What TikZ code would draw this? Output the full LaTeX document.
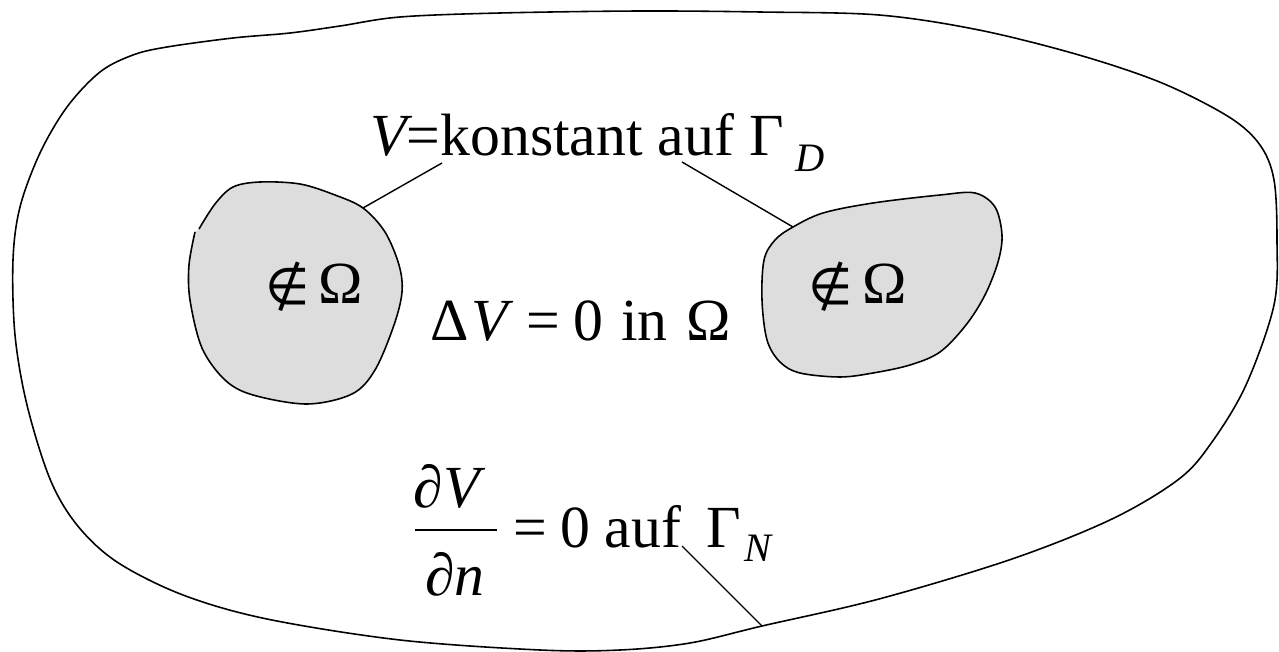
\documentclass[tikz,border=0pt]{standalone}
\usepackage{fontspec}
\setmainfont{Liberation Serif}
\newfontfamily\symfont{DejaVu Sans}
\definecolor{blobgray}{RGB}{221,221,221}
\begin{document}
\begin{tikzpicture}[x=0.02cm,y=-0.02cm,
  outline/.style={line width=0.9pt,line join=round},
  leader/.style={line width=0.8pt},
  txt/.style={inner sep=0pt,anchor=base west,font=\fontsize{34}{40}\selectfont},
  notin/.style={inner sep=0pt,anchor=base,font=\fontsize{29}{34}\symfont}]
\useasboundingbox (0,0) rectangle (1279,652);
% outer domain
\draw[outline] plot[smooth cycle,tension=0.55] coordinates {
 (400,17) (500,13) (640,11) (760,12) (879,15) (979,30) (1079,55) (1162,83) (1229,117) (1260,145)
 (1274,180) (1277,240) (1274,305) (1246,385) (1212,442) (1179,479) (1112,519)
 (1012,559) (879,599) (762,626) (690,643) (620,650) (540,650) (400,640) (267,619)
 (183,595) (117,562) (77,525) (50,479) (27,405) (15,335) (13,260) (20,207) (40,153)
 (67,107) (100,72) (133,55) (167,47) (233,38) (290,33) (340,26)};
% left blob
\fill[blobgray] plot[smooth cycle,tension=0.55] coordinates {
 (199,229) (215,204) (233,187) (260,182) (300,184) (335,195) (363,208) (385,232)
 (399,265) (402,292) (394,325) (375,370) (352,394) (307,404) (253,395) (225,380)
 (202,348) (190,300) (189,265) (194,233)};
\draw[outline] plot[smooth,tension=0.55] coordinates {
 (199,229) (215,204) (233,187) (260,182) (300,184) (335,195) (363,208) (385,232)
 (399,265) (402,292) (394,325) (375,370) (352,394) (307,404) (253,395) (225,380)
 (202,348) (190,300) (189,265) (195,232)};
% right blob
\draw[outline,fill=blobgray] plot[smooth cycle,tension=0.55] coordinates {
 (793,227) (823,213) (873,203) (940,195) (975,193) (995,207) (1002,235) (998,262)
 (985,295) (966,325) (940,352) (910,365) (873,373) (840,377) (800,373) (780,362)
 (767,340) (762,300) (764,260) (775,240)};
% anchor points of the leaders
\coordinate (lbt) at (363,208);
\coordinate (rbt) at (793,227);
\coordinate (gn) at (762,626);
% texts
\node[txt] (vk) at (370,155) {\itshape V\upshape=konstant auf Γ\kern0.2em\raisebox{-0.27em}{\fontsize{23}{26}\selectfont\itshape D}};
\coordinate (vkl) at (442,163);
\coordinate (vkr) at (682,162);
\node[notin] (nl) at (288,304) {∉};
\node[txt] (ol) at (318,303) {Ω};
\node[notin] (nr) at (831,304) {∉};
\node[txt] (or) at (862,303) {Ω};
\node[txt] (lap) at (430,340) {Δ\kern0.04em{\itshape V}\hspace{0.32em}=\hspace{0.22em}0\hspace{0.3em}in\hspace{0.32em}Ω};
\node[txt,anchor=base] (num) at (447,507) {\itshape ∂V};
\node[txt,anchor=base] (den) at (455,595) {\itshape ∂n};
\draw[line width=0.8pt] (415,530) -- (497,530);
\node[txt] (neu) at (513,547) {=\hspace{0.22em}0\hspace{0.25em}auf\hspace{0.42em}Γ\kern0.06em\raisebox{-0.25em}{\fontsize{23}{26}\selectfont\itshape N}};
\coordinate (auf) at (682,546);
% leaders
\draw[leader] (vkl) -- (lbt);
\draw[leader] (vkr) -- (rbt);
\draw[leader] (auf) -- (gn);
\end{tikzpicture}
\end{document}
